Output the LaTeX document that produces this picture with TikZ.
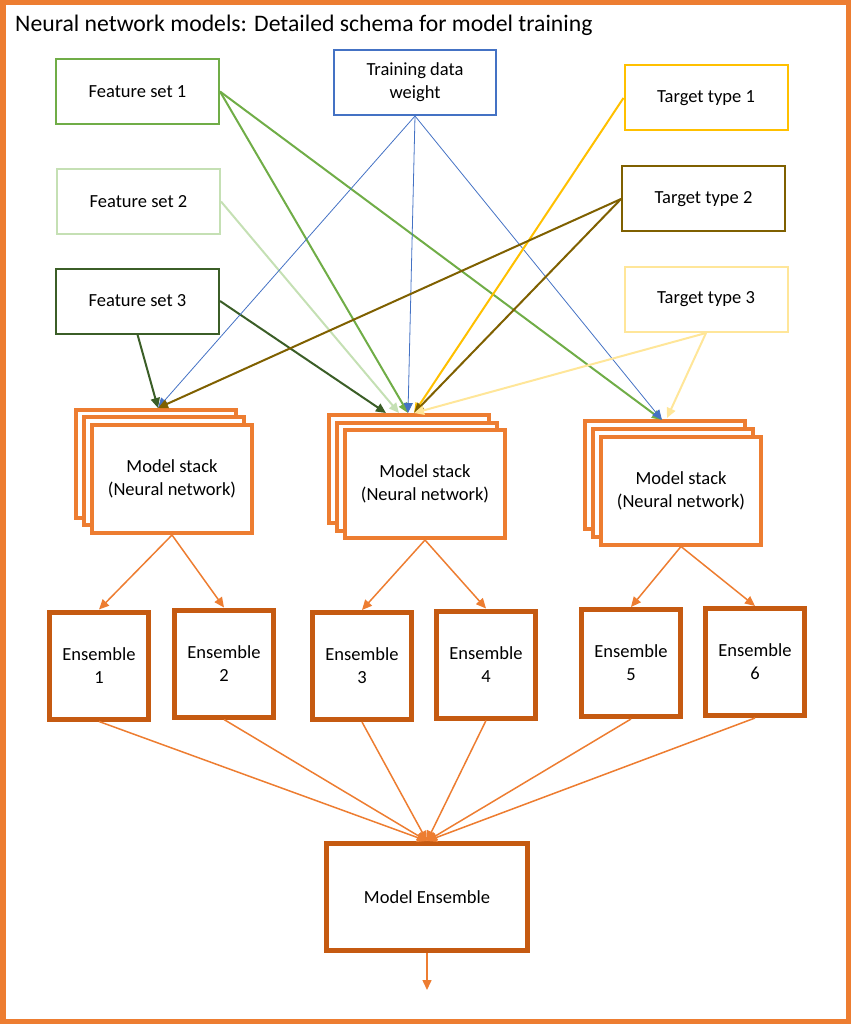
\documentclass[tikz,border=0pt]{standalone}
\usepackage{fontspec}
\setmainfont{Carlito}
\usetikzlibrary{arrows.meta}
\definecolor{orng}{HTML}{ED7D31}
\definecolor{dorng}{HTML}{C55A11}
\definecolor{fsa}{HTML}{70AD47}
\definecolor{fsb}{HTML}{C5E0B4}
\definecolor{fsc}{HTML}{3B5E27}
\definecolor{tdw}{HTML}{4472C4}
\definecolor{tta}{HTML}{FFC000}
\definecolor{ttb}{HTML}{7F6000}
\definecolor{ttc}{HTML}{FFE699}
\begin{document}
\begin{tikzpicture}[x=1pt,y=-1pt,
  inbox/.style={draw, line width=2pt, minimum width=163pt, minimum height=65pt, inner sep=0pt, align=center, fill=white, font=\fontsize{18.5}{23}\selectfont},
  msbox/.style={draw=orng, line width=4pt, minimum width=160pt, minimum height=108pt, inner sep=0pt, align=center, fill=white, font=\fontsize{18.5}{23}\selectfont},
  ensbox/.style={draw=dorng, line width=5pt, minimum width=99pt, minimum height=107pt, inner sep=0pt, align=center, fill=white, font=\fontsize{18.5}{23}\selectfont},
  conn/.style={line width=2pt, -{Triangle[length=10pt,width=9pt]}},
  thinconn/.style={line width=0.8pt, -{Triangle[length=10pt,width=9pt]}},
  oconn/.style={draw=orng, line width=1.5pt, -{Triangle[length=10pt,width=9pt]}, orng}
]
\useasboundingbox (0,0) rectangle (851,1024);
\draw[orng, line width=5.5pt] (2.75,2.75) rectangle (848.25,1021.25);
\node[anchor=base west, inner sep=0pt, font=\fontsize{23.7}{28}\selectfont] (title) at (15,32) {Neural network models: Detailed schema for model training};

% input boxes
\node[inbox, draw=fsa] (fs1) at (137.5,91.5) {Feature set 1};
\node[inbox, draw=fsb] (fs2) at (138.5,201.5) {Feature set 2};
\node[inbox, draw=fsc] (fs3) at (137.5,301) {Feature set 3};
\node[inbox, draw=tdw, minimum width=162pt] (tw) at (415,82.5) {Training data\\weight};
\node[inbox, draw=tta] (tt1) at (706,98) {Target type 1};
\node[inbox, draw=ttb] (tt2) at (703.5,199) {Target type 2};
\node[inbox, draw=ttc] (tt3) at (706,299.5) {Target type 3};

% model stacks
\node[msbox] (ms1a) at (155.5,463.5) {};
\node[msbox] (ms1b) at (163.5,471) {};
\node[msbox] (ms1) at (172,479) {Model stack\\(Neural network)};
\node[msbox] (ms2a) at (408.5,469) {};
\node[msbox] (ms2b) at (417,477) {};
\node[msbox] (ms2) at (425,484) {Model stack\\(Neural network)};
\node[msbox] (ms3a) at (664.5,474.5) {};
\node[msbox] (ms3b) at (673,482.5) {};
\node[msbox] (ms3) at (681,490.5) {Model stack\\(Neural network)};

% entry points
\coordinate (m1in) at (158,408);
\coordinate (m2a) at (386,413);
\coordinate (m2b) at (399,413);
\coordinate (m2c) at (408,413);
\coordinate (m2d) at (414,413);
\coordinate (m3in) at (662,420);
\coordinate (m3b) at (667,418);

% ensembles
\node[ensbox] (e1) at (99,665.5) {Ensemble\\1};
\node[ensbox] (e2) at (224,663.5) {Ensemble\\2};
\node[ensbox] (e3) at (362,666) {Ensemble\\3};
\node[ensbox] (e4) at (486,664.5) {Ensemble\\4};
\node[ensbox] (e5) at (631,663) {Ensemble\\5};
\node[ensbox] (e6) at (755,662) {Ensemble\\6};
\node[ensbox, minimum width=201pt] (me) at (427,897) {Model Ensemble};
\coordinate (out) at (427,990);

% input connectors
\draw[conn, fsa] (fs1.east) -- (m2c);
\draw[conn, fsa] (fs1.east) -- (m3in);
\draw[conn, fsb] (fs2.east) -- (m2b);
\draw[conn, fsc] (fs3.south) -- (m1in);
\draw[conn, fsc] (fs3.east) -- (m2a);
\draw[thinconn, tdw] (tw.south) -- (m1in);
\draw[thinconn, tdw] (tw.south) -- (m2c);
\draw[thinconn, tdw] (tw.south) -- (m3in);
\draw[conn, tta] (tt1.west) -- (m2d);
\draw[conn, ttb] (tt2.west) -- (m1in);
\draw[conn, ttb] (tt2.west) -- (m2d);
\draw[conn, ttc] (tt3.south) -- (m2d);
\draw[conn, ttc] (tt3.south) -- (m3b);

% stack -> ensembles
\draw[oconn] (ms1.south) -- (e1.north);
\draw[oconn] (ms1.south) -- (e2.north);
\draw[oconn] (ms2.south) -- (e3.north);
\draw[oconn] (ms2.south) -- (e4.north);
\draw[oconn] (ms3.south) -- (e5.north);
\draw[oconn] (ms3.south) -- (e6.north);

% ensembles -> model ensemble
\foreach \e in {e1,e2,e3,e4,e5,e6}{
  \draw[oconn] (\e.south) -- (me.north);
}
\draw[oconn] (me.south) -- (out);
\end{tikzpicture}
\end{document}
